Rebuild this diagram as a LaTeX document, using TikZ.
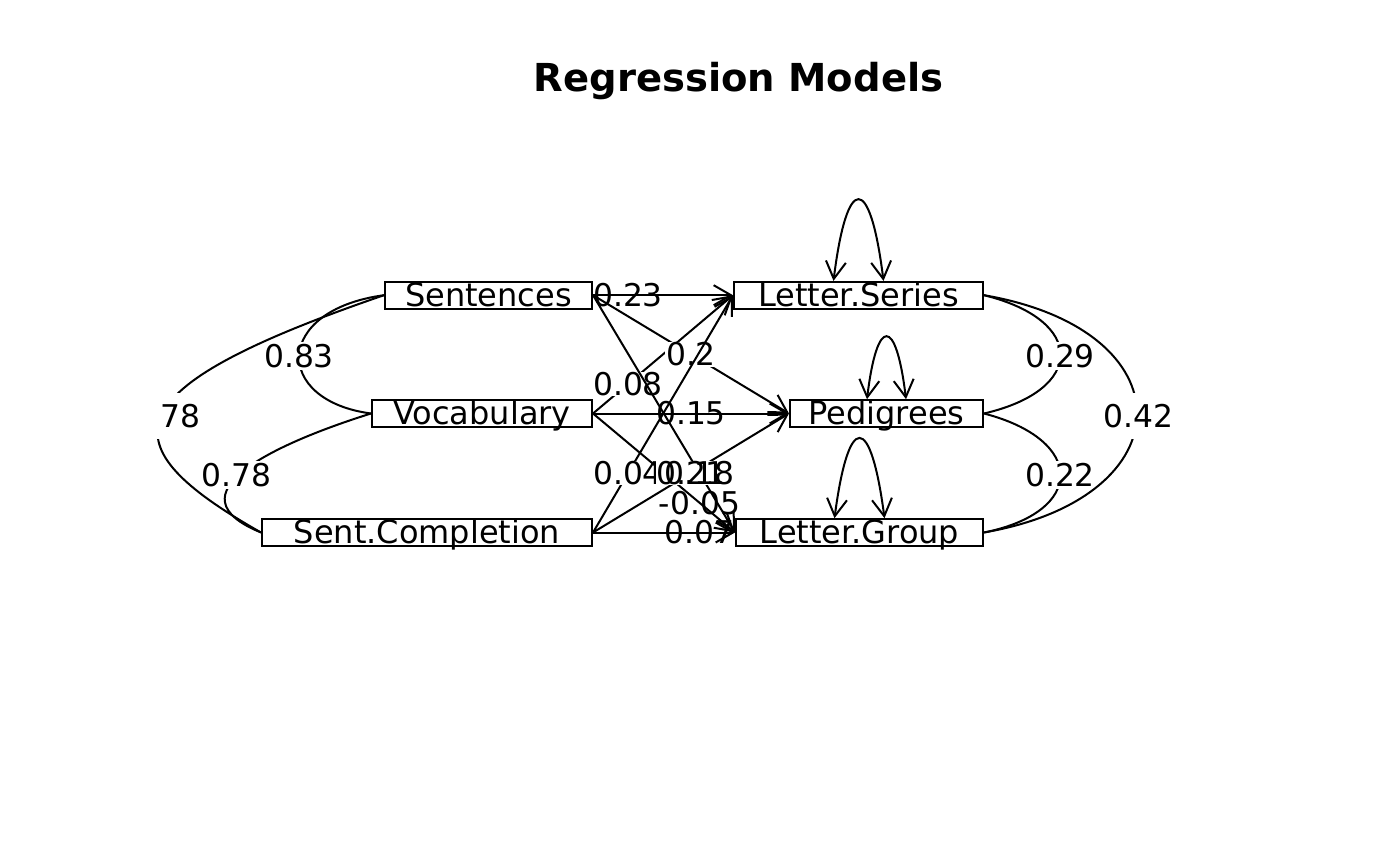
\documentclass[tikz,border=0pt]{standalone}
\usepackage{fontspec}
\newfontfamily\nf{DejaVu Sans}
\usetikzlibrary{arrows.meta,calc}
\begin{document}
\begin{tikzpicture}[x=0.75pt,y=-0.75pt,
  box/.style={draw,line width=1.5pt,inner xsep=0pt,inner ysep=0pt,
    text height=18.6pt,text depth=1.4pt,font=\nf\fontsize{24}{24}\selectfont},
  arr/.style={line width=1.5pt,-{Straight Barb[length=13pt,width=15pt]}},
  darr/.style={line width=1.5pt,{Straight Barb[length=13pt,width=15pt]}-{Straight Barb[length=13pt,width=15pt]}},
  cov/.style={line width=1.5pt},
  lab/.style={font=\nf\fontsize{23.5}{23.5}\selectfont,inner sep=0.6pt,
    text height=17.1pt,text depth=0pt},
  labf/.style={lab,fill=white},
  biglab/.style={lab,fill=white,inner xsep=8pt,inner ysep=9pt},
  title/.style={font=\nf\bfseries\fontsize{28.9}{28.9}\selectfont}]
\useasboundingbox (0,0) rectangle (1400,866);

\node[title] (T) at (738.5,81) {Regression Models};

% nodes
\node[box,minimum width=155.25pt] (S)  at (488.5,295.2) {Sentences};
\node[box,minimum width=165pt]    (V)  at (482,413.5)   {Vocabulary};
\node[box,minimum width=247.5pt]  (SC) at (427,532.5)   {Sent.Completion};
\node[box,minimum width=186.75pt] (LS) at (858.5,295.2) {Letter.Series};
\node[box,minimum width=144.75pt] (P)  at (886.5,413.5) {Pedigrees};
\node[box,minimum width=185.25pt] (LG) at (859.5,532.5) {Letter.Group};

% regression edges (layered as in the reference)
\draw[arr] (V.east) -- node[labf,pos=.25] (l08) {0.08} (LS.west);
\draw[arr] (S.east) -- node[labf,pos=.5] (l2) {0.2} (P.west);
\draw[arr] (SC.east) -- node[labf,pos=.25] (l04) {0.04} (LS.west);
\draw[arr] (V.east) -- (LG.west);
\draw[arr] (S.east) -- (LG.west);
\draw[arr] (SC.east) -- node[labf,pos=.5,inner xsep=0pt] (l21) {0.21} (P.west);
\draw[arr] (S.east) -- node[lab,pos=.25] (l23) {0.23} (LS.west);
\draw[arr] (V.east) -- node[lab,pos=.5] (l15) {0.15} (P.west);
\draw[arr] (SC.east) -- node[lab,pos=.75] (l07) {0.07} (LG.west);
\node[lab] (l18) at ($(S.east)!.75!(LG.west)$) {0.18};
\node[lab] (l05) at ($(V.east)!.75!(LG.west)$) {-0.05};

% residual loops
\draw[darr] ($(LS.north)+(-25,0)$) .. controls +(13.5,-108) and +(-13.5,-108) .. ($(LS.north)+(25,0)$);
\draw[darr] ($(P.north)+(-19.5,0)$) .. controls +(10,-83) and +(-10,-83) .. ($(P.north)+(19.5,0)$);
\draw[darr] ($(LG.north)+(-25,0)$) .. controls +(14,-106) and +(-14,-106) .. ($(LG.north)+(25,0)$);

% left covariances
\draw[cov] (S.west) .. controls +(-111,15) and +(-98,-13) .. (V.west);
\node[labf,inner sep=2pt] (c83) at (299,356) {0.83};
\draw[cov] (V.west) .. controls +(-102,32) and +(-92,-37.5) .. (SC.west);
\node[labf,inner sep=2pt] (c78a) at (236.5,475) {0.78};
\draw[cov] (S.west) .. controls +(-277,95) and +(-154,-87.5) .. (SC.west);
\node[biglab] (c78b) at (180.5,416) {78};

% right covariances
\draw[cov] (LS.east) .. controls +(102,25) and +(102,-23.5) .. (P.east);
\node[labf,inner sep=2pt] (c29) at (1060,356) {0.29};
\draw[cov] (P.east) .. controls +(102,26.5) and +(102,-20.5) .. (LG.east);
\node[labf,inner sep=2pt] (c22) at (1060,475) {0.22};
\draw[cov] (LS.east) .. controls +(204,35) and +(204,-35.5) .. (LG.east);
\node[biglab,inner xsep=2pt] (c42) at (1138.5,416) {0.42};
\end{tikzpicture}
\end{document}
